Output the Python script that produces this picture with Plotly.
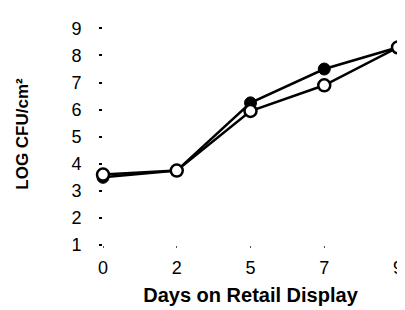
import plotly.graph_objects as go

days = ["0", "2", "5", "7", "9"]
filled_vals = [3.5, 3.75, 6.25, 7.5, 8.3]
open_vals = [3.6, 3.75, 5.95, 6.9, 8.3]
y_ticks = [1, 2, 3, 4, 5, 6, 7, 8, 9]

xpos = list(range(len(days)))

fig = go.Figure()
fig.add_trace(go.Scatter(
    x=xpos, y=filled_vals, mode="lines+markers", cliponaxis=False,
    line=dict(color="black", width=2.5),
    marker=dict(symbol="circle", size=12, color="black", line=dict(color="black", width=1)),
    showlegend=False))
fig.add_trace(go.Scatter(
    x=xpos, y=open_vals, mode="lines+markers", cliponaxis=False,
    line=dict(color="black", width=2.5),
    marker=dict(symbol="circle", size=12, color="white", line=dict(color="black", width=2.5)),
    showlegend=False))

font_family = "Liberation Sans, Arial, sans-serif"
fig.update_layout(
    width=405, height=310,
    margin=dict(l=95, r=10, t=15, b=73),
    plot_bgcolor="white", paper_bgcolor="white",
    font=dict(family=font_family, color="black", size=18),
    xaxis=dict(
        range=[0, 4], tickmode="array", tickvals=xpos, ticktext=days,
        showgrid=False, zeroline=False, showline=False,
        ticks="outside", ticklen=2, tickwidth=1, tickcolor="#555",
        ticklabelstandoff=4, tickfont=dict(size=18),
        title=dict(text="Days on Retail Display", font=dict(size=20, weight="bold"), standoff=11),
    ),
    yaxis=dict(
        range=[1, 9.2], tickmode="array", tickvals=y_ticks, ticktext=[str(v) for v in y_ticks],
        showgrid=False, zeroline=False, showline=False,
        ticks="outside", ticklen=3, tickwidth=1.5, tickcolor="black",
        ticklabelstandoff=14, tickfont=dict(size=18),
        title=dict(text="LOG CFU/cm²", font=dict(size=17, weight="bold"), standoff=38),
    ),
)
fig.write_html("out.html")
